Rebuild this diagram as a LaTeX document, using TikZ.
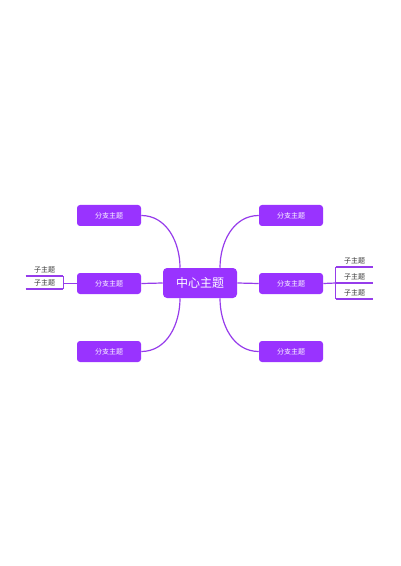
\documentclass[tikz,border=0pt]{standalone}
\usepackage{fontspec}
\setmainfont{Noto Sans CJK SC}
\definecolor{mpurple}{RGB}{153,51,255}
\definecolor{mline}{RGB}{150,60,235}
\definecolor{mtext}{RGB}{51,51,51}
\tikzset{
  centerbox/.style={fill=mpurple, text=white, rounded corners=3pt, minimum width=55.5pt,
    minimum height=22.5pt, inner sep=0pt, font=\fontsize{9}{9}\selectfont},
  branchbox/.style={fill=mpurple, text=white, rounded corners=2.25pt, minimum width=48pt,
    minimum height=15.75pt, inner sep=0pt, font=\fontsize{5.25}{5.25}\selectfont},
  subtopic/.style={text=mtext, minimum width=27.75pt, inner xsep=0pt, inner ysep=2.2pt,
    anchor=south, font=\fontsize{5.25}{5.25}\selectfont},
  link/.style={draw=mline, line width=0.9pt}
}
\begin{document}
\begin{tikzpicture}[x=0.75pt,y=-0.75pt]
    \useasboundingbox (0,0) rectangle (400,566);
    \node [centerbox] (c) at (200,283) {中心主题};
    \node [branchbox] (b1) at (109,215.5) {分支主题};
    \node [branchbox] (b2) at (109,283.5) {分支主题};
    \node [branchbox] (b3) at (109,351.5) {分支主题};
    \node [branchbox] (b4) at (291,215.5) {分支主题};
    \node [branchbox] (b5) at (291,283.5) {分支主题};
    \node [branchbox] (b6) at (291,351.5) {分支主题};
    \node [subtopic] (l1) at (44.5,276) {子主题};
    \node [subtopic] (l2) at (44.5,289) {子主题};
    \node [subtopic] (r1) at (354.5,267) {子主题};
    \node [subtopic] (r2) at (354.5,283) {子主题};
    \node [subtopic] (r3) at (354.5,299) {子主题};
    \draw [link] ([xshift=-15pt]c.north) to [out=90,in=0] (b1.east);
    \draw [link] (c.west) -- (b2.east);
    \draw [link] ([xshift=-15pt]c.south) to [out=-90,in=0] (b3.east);
    \draw [link] ([xshift=15pt]c.north) to [out=90,in=180] (b4.west);
    \draw [link] (c.east) -- (b5.west);
    \draw [link] ([xshift=15pt]c.south) to [out=-90,in=180] (b6.west);
    \draw [link] (b2.west) -- (l1.south east |- b2.west);
    \draw [link] (l1.south east) -- (l2.south east);
    \draw [link] (l1.south west) -- (l1.south east);
    \draw [link] (l2.south west) -- (l2.south east);
    \draw [link] (b5.east) -- (r2.south west);
    \draw [link] (r1.south west) -- (r3.south west);
    \draw [link] (r1.south west) -- (r1.south east);
    \draw [link] (r2.south west) -- (r2.south east);
    \draw [link] (r3.south west) -- (r3.south east);
\end{tikzpicture}
\end{document}
